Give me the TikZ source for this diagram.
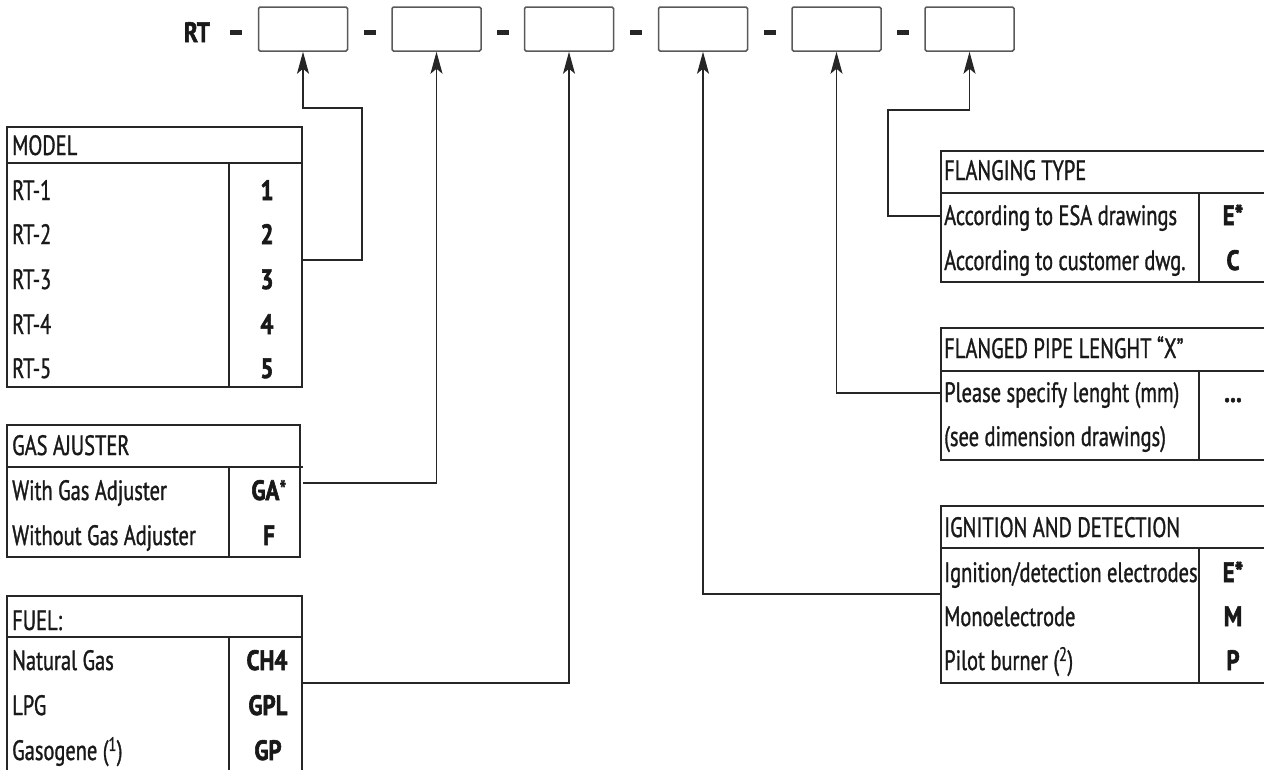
\documentclass[tikz,border=0pt]{standalone}
\usepackage{fontspec}
\setmainfont{PT Sans}[FakeStretch=0.73,FakeBold=1.1,BoldFeatures={FakeStretch=0.82,FakeBold=2}]
\usetikzlibrary{arrows.meta}
\begin{document}
\begin{tikzpicture}[x=1pt,y=-1pt,
  frame/.style={draw=black!85,line width=1.2pt},
  topbox/.style={draw=black!65,line width=1.5pt,rounded corners=1.5pt,minimum width=89pt,minimum height=44pt,inner sep=0pt},
  conn/.style={draw=black!85,line width=1.2pt},
  arr/.style={conn,-{Stealth[length=22pt,width=12pt,inset=5pt]}},
  lbl/.style={anchor=base west,inner sep=0pt,text=black!90,font=\fontsize{28}{28}\selectfont},
  code/.style={anchor=base,inner sep=0pt,text=black!90,font=\fontsize{28}{28}\selectfont\bfseries},
  dashbar/.style={fill=black!85}
]
\useasboundingbox (0,0) rectangle (1264,769);
\clip (0,0) rectangle (1264,769);

% top code row
\node[code] (rt) at (197,42) {RT};
\fill[dashbar] (230,30) rectangle (242,34.5);
\fill[dashbar] (364,30) rectangle (376,34.5);
\fill[dashbar] (497,30) rectangle (509,34.5);
\fill[dashbar] (630,30) rectangle (642,34.5);
\fill[dashbar] (764,30) rectangle (776,34.5);
\fill[dashbar] (897,30) rectangle (909,34.5);
\node[topbox] (b1) at (303,29) {};
\node[topbox] (b2) at (436.5,29) {};
\node[topbox] (b3) at (569,29) {};
\node[topbox] (b4) at (703,29) {};
\node[topbox] (b5) at (836.5,29) {};
\node[topbox] (b6) at (969.5,29) {};

% MODEL table
\draw[frame] (7,127) rectangle (302,387);
\draw[frame] (7,163) -- (302,163);
\draw[frame] (229,163) -- (229,387);
\node[lbl] (mh) at (12,155) {MODEL};
\node[lbl] (m1) at (12,200) {RT-1};
\node[lbl] (m2) at (12,244) {RT-2};
\node[lbl] (m3) at (12,289) {RT-3};
\node[lbl] (m4) at (12,334) {RT-4};
\node[lbl] (m5) at (12,378) {RT-5};
\node[code] (mc1) at (267,200) {1};
\node[code] (mc2) at (267,244) {2};
\node[code] (mc3) at (267,289) {3};
\node[code] (mc4) at (267,334) {4};
\node[code] (mc5) at (267,378) {5};

% GAS AJUSTER table
\draw[frame] (7,425) rectangle (300,557);
\draw[frame] (7,467) -- (303,467);
\draw[frame] (229,467) -- (229,557);
\node[lbl] (gh) at (12,455) {GAS AJUSTER};
\node[lbl] (g1) at (12,500) {With Gas Adjuster};
\node[lbl] (g2) at (12,545) {Without Gas Adjuster};
\node[code] (gc1) at (269,500) {GA{\mdseries*}};
\node[code] (gc2) at (269,545) {F};

% FUEL table
\draw[frame] (7,596) rectangle (302,775);
\draw[frame] (7,637) -- (302,637);
\draw[frame] (229,637) -- (229,775);
\node[lbl] (fh) at (12,630) {FUEL:};
\node[lbl] (f1) at (12,670) {Natural Gas};
\node[lbl] (f2) at (12,715) {LPG};
\node[lbl] (f3) at (12,760) {Gasogene (\textsuperscript{1})};
\node[code] (fc1) at (267,670) {CH4};
\node[code] (fc2) at (268,715) {GPL};
\node[code] (fc3) at (268,760) {GP};

% FLANGING TYPE table
\draw[frame] (941,151) rectangle (1266,282);
\draw[frame] (941,193) -- (1266,193);
\draw[frame] (1199,193) -- (1199,282);
\node[lbl] (lh) at (944,180) {FLANGING TYPE};
\node[lbl] (l1) at (944,225) {According to ESA drawings};
\node[lbl] (l2) at (944,270) {According to customer dwg.};
\node[code] (lc1) at (1233,225) {E*};
\node[code] (lc2) at (1233,270) {C};

% FLANGED PIPE table
\draw[frame] (941,328) rectangle (1266,460);
\draw[frame] (941,371) -- (1266,371);
\draw[frame] (1199,371) -- (1199,460);
\node[lbl] (ph) at (944,358) {FLANGED PIPE LENGHT “X”};
\node[lbl] (p1) at (944,402) {Please specify lenght (mm)};
\node[lbl] (p2) at (944,446) {(see dimension drawings)};
\node[code] (pc1) at (1233,402) {...};

% IGNITION table
\draw[frame] (941,506) rectangle (1266,683);
\draw[frame] (941,548) -- (1266,548);
\draw[frame] (1199,548) -- (1199,683);
\node[lbl] (ih) at (944,537) {IGNITION AND DETECTION};
\node[lbl] (i1) at (944,582) {Ignition/detection electrodes};
\node[lbl] (i2) at (944,626) {Monoelectrode};
\node[lbl] (i3) at (944,670) {Pilot burner (\textsuperscript{2})};
\node[code] (ic1) at (1233,582) {E*};
\node[code] (ic2) at (1233,626) {M};
\node[code] (ic3) at (1233,670) {P};

% connector ports
\coordinate (mport) at (302,260);
\coordinate (gport) at (303,483);
\coordinate (fport) at (302,683);
\coordinate (iport) at (941,594);
\coordinate (pport) at (941,393);
\coordinate (lport) at (941,216);

% connectors
\draw[arr] (mport) -| (362,108) -| (b1.south);
\draw[arr] (gport) -| (b2.south);
\draw[arr] (fport) -| (b3.south);
\draw[arr] (iport) -| (b4.south);
\draw[arr] (pport) -| (b5.south);
\draw[arr] (lport) -| (888,110) -| (b6.south);
\end{tikzpicture}
\end{document}
